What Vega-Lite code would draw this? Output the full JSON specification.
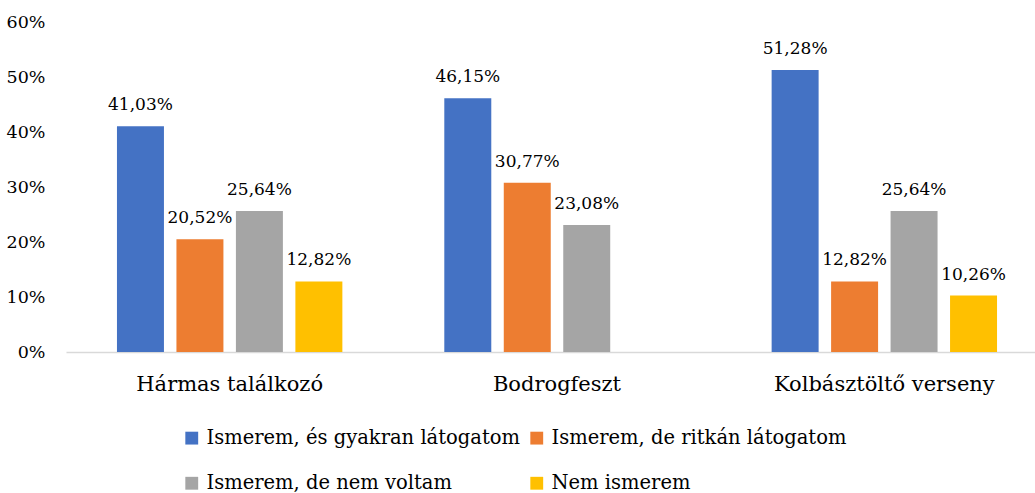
{
  "$schema": "https://vega.github.io/schema/vega-lite/v6.json",
  "width": 969,
  "height": 330,
  "autosize": {"type": "none"},
  "padding": {"left": 66, "top": 22, "right": 0, "bottom": 141},
  "background": "white",
  "data": {
    "values": [
      {"event": "Hármas találkozó", "group": "Ismerem, és gyakran látogatom", "value": 0.4103, "label": "41,03%"},
      {"event": "Hármas találkozó", "group": "Ismerem, de ritkán látogatom", "value": 0.2052, "label": "20,52%"},
      {"event": "Hármas találkozó", "group": "Ismerem, de nem voltam", "value": 0.2564, "label": "25,64%"},
      {"event": "Hármas találkozó", "group": "Nem ismerem", "value": 0.1282, "label": "12,82%"},
      {"event": "Bodrogfeszt", "group": "Ismerem, és gyakran látogatom", "value": 0.4615, "label": "46,15%"},
      {"event": "Bodrogfeszt", "group": "Ismerem, de ritkán látogatom", "value": 0.3077, "label": "30,77%"},
      {"event": "Bodrogfeszt", "group": "Ismerem, de nem voltam", "value": 0.2308, "label": "23,08%"},
      {"event": "Kolbásztöltő verseny", "group": "Ismerem, és gyakran látogatom", "value": 0.5128, "label": "51,28%"},
      {"event": "Kolbásztöltő verseny", "group": "Ismerem, de ritkán látogatom", "value": 0.1282, "label": "12,82%"},
      {"event": "Kolbásztöltő verseny", "group": "Ismerem, de nem voltam", "value": 0.2564, "label": "25,64%"},
      {"event": "Kolbásztöltő verseny", "group": "Nem ismerem", "value": 0.1026, "label": "10,26%"}
    ]
  },
  "encoding": {
    "x": {
      "field": "event", "type": "nominal", "sort": null,
      "scale": {"range": [0, 982], "paddingInner": 0, "paddingOuter": 0},
      "axis": {"title": null, "labelAngle": 0, "ticks": false, "domainColor": "#D9D9D9", "domainWidth": 1.5, "labelFontSize": 21, "labelPadding": 21, "labelColor": "#000", "labelLimit": 500}
    },
    "xOffset": {
      "field": "group", "type": "nominal",
      "sort": ["Ismerem, és gyakran látogatom", "Ismerem, de ritkán látogatom", "Ismerem, de nem voltam", "Nem ismerem"],
      "scale": {"domain": ["Ismerem, és gyakran látogatom", "Ismerem, de ritkán látogatom", "Ismerem, de nem voltam", "Nem ismerem"], "paddingInner": 0.21, "paddingOuter": 0.857}
    },
    "y": {
      "field": "value", "type": "quantitative",
      "scale": {"domain": [0, 0.6]},
      "axis": {"title": null, "format": ".0%", "values": [0, 0.1, 0.2, 0.3, 0.4, 0.5, 0.6], "grid": false, "domain": false, "ticks": false, "labelFontSize": 17.5, "labelPadding": 21, "labelColor": "#000"}
    }
  },
  "layer": [
    {
      "mark": {"type": "bar"},
      "encoding": {
        "color": {
          "field": "group", "type": "nominal",
          "scale": {"domain": ["Ismerem, és gyakran látogatom", "Ismerem, de ritkán látogatom", "Ismerem, de nem voltam", "Nem ismerem"], "range": ["#4472C4", "#ED7D31", "#A5A5A5", "#FFC000"]},
          "legend": {
            "title": null, "orient": "none", "legendX": 116, "legendY": 406,
            "direction": "horizontal", "columns": 2, "symbolType": "square", "symbolSize": 165,
            "symbolStrokeWidth": 0, "labelFontSize": 19.5, "labelOffset": 5, "labelColor": "#000",
            "columnPadding": 7, "rowPadding": 24.5, "labelLimit": 600
          }
        }
      }
    },
    {
      "mark": {"type": "text", "baseline": "alphabetic", "dy": -16, "fontSize": 17, "color": "#000"},
      "encoding": {"text": {"field": "label"}}
    }
  ],
  "config": {
    "font": "DejaVu Serif",
    "axis": {"labelFont": "DejaVu Serif"},
    "legend": {"labelFont": "DejaVu Serif"},
    "text": {"font": "DejaVu Serif"},
    "view": {"stroke": null}
  }
}
